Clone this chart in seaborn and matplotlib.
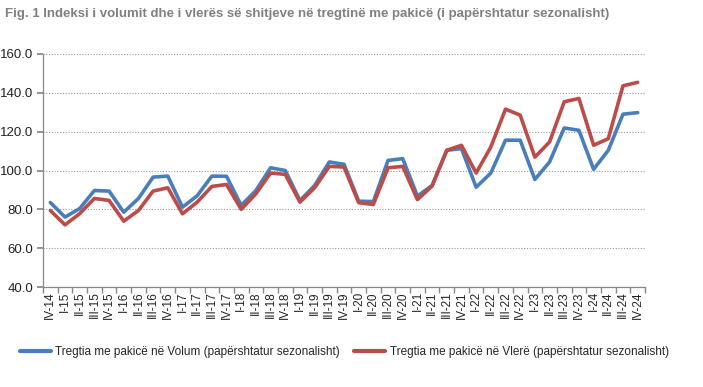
import pandas as pd
import numpy as np
import matplotlib
matplotlib.use("Agg")
import matplotlib.pyplot as plt
import seaborn as sns
from matplotlib.lines import Line2D

# ── Dados ───────────────────────────────────────────────────────────────────
tremujorët = ["IV-14"]
for ano in range(15, 25):
    for q in ["I", "II", "III", "IV"]:
        tremujorët.append(f"{q}-{ano}")

volum = [83.5, 76.0, 80.4, 89.7, 89.4, 78.5, 85.6, 96.6, 97.1, 81.1,
         87.0, 97.1, 97.0, 82.0, 89.7, 101.4, 100.0, 84.5, 92.3, 104.4,
         103.2, 84.2, 84.0, 105.2, 106.1, 86.8, 92.3, 110.4, 111.3, 91.4,
         98.7, 115.6, 115.6, 95.4, 104.4, 121.9, 120.7, 100.6, 110.4, 129.0,
         129.8]
vlere = [79.4, 72.0, 77.8, 85.6, 84.6, 73.9, 79.4, 89.4, 91.1, 77.7,
         83.7, 91.8, 92.8, 80.0, 88.0, 98.7, 98.0, 83.7, 91.1, 102.1,
         101.8, 83.4, 82.5, 101.4, 102.1, 85.0, 92.0, 110.4, 113.0, 98.7,
         112.1, 131.6, 128.5, 106.9, 114.7, 135.4, 137.1, 113.0, 116.4, 143.6,
         145.4]

seri_vol = "Tregtia me pakicë në Volum (papërshtatur sezonalisht)"
seri_vle = "Tregtia me pakicë në Vlerë (papërshtatur sezonalisht)"

df = pd.DataFrame({
    "idx": list(range(len(tremujorët))) * 2,
    "vlera": volum + vlere,
    "seria": [seri_vol] * len(volum) + [seri_vle] * len(vlere),
})

# ── Figura ──────────────────────────────────────────────────────────────────
sns.set_theme(style="white")
plt.rcParams["font.family"] = ["Liberation Sans", "DejaVu Sans"]

fig = plt.figure(figsize=(7.03, 3.87), dpi=100)
ax = fig.add_axes([43 / 703, 1 - 287 / 387, (645 - 43) / 703, (287 - 54) / 387])

sns.lineplot(data=df, x="idx", y="vlera", hue="seria",
             palette={seri_vol: "#4A7EBB", seri_vle: "#BE4B48"},
             linewidth=2.6, ax=ax, legend=False)

ax.set_xlim(-0.5, len(tremujorët) - 0.5)
ax.set_ylim(40, 160)
ax.set_yticks(np.arange(40, 161, 20))
ax.set_yticklabels([f"{v:.1f}" for v in np.arange(40, 161, 20)], fontsize=9.5, color="#222222")
ax.set_xticks(range(len(tremujorët)))
ax.set_xticklabels(tremujorët, rotation=90, fontsize=8.5, color="#222222")
ax.set_xticks(np.arange(-0.5, len(tremujorët), 1), minor=True)
ax.tick_params(axis="x", which="major", length=0, pad=3)
ax.tick_params(axis="x", which="minor", length=4, color="#888888", direction="out", bottom=True)
ax.tick_params(axis="y", length=4, color="#888888", direction="out", left=True, pad=3)
ax.set_xlabel("")
ax.set_ylabel("")
ax.grid(axis="y", color="#999999", linestyle=(0, (1, 1.5)), linewidth=0.8)
ax.set_axisbelow(True)
for s in ["top", "right"]:
    ax.spines[s].set_visible(False)
for s in ["left", "bottom"]:
    ax.spines[s].set_color("#888888")
    ax.spines[s].set_linewidth(0.9)

fig.text(0.007, 0.965, "Fig. 1 Indeksi i volumit dhe i vlerës së shitjeve në tregtinë me pakicë (i papërshtatur sezonalisht)",
         fontsize=9.5, fontweight="bold", color="#808080", va="center", ha="left")

# legjenda
doreza = [Line2D([0], [0], color="#4A7EBB", lw=3), Line2D([0], [0], color="#BE4B48", lw=3)]
fig.legend(doreza, [seri_vol, seri_vle], loc="center", bbox_to_anchor=(0.49, 1 - 352 / 387),
           ncol=2, frameon=False, fontsize=8.5, handlelength=2.6, handletextpad=0.4,
           columnspacing=1.2)

fig.savefig("out.png", dpi=100)
plt.close()
